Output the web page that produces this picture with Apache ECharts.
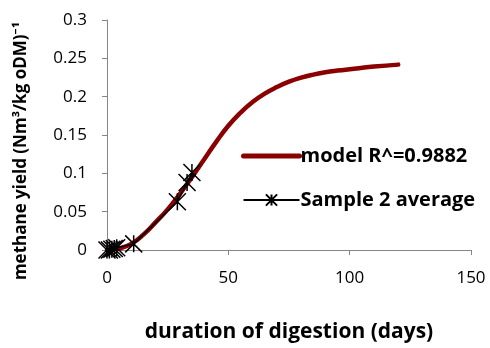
<!DOCTYPE html>
<html><head><meta charset="utf-8">
<script src="https://cdn.jsdelivr.net/npm/echarts@6/dist/echarts.min.js"></script>
<style>html,body{margin:0;padding:0;background:#fff}#c{width:490px;height:348px}</style>
</head><body><div id="c"></div>
<script>
const modelDays = [0, 5, 10, 15, 20, 25, 30, 35, 40, 45, 50, 55, 60, 65, 70, 75, 80, 85, 90, 95, 100, 110, 120];
const modelYield = [0, 0.002, 0.008, 0.02, 0.036, 0.053, 0.073, 0.095, 0.118, 0.141, 0.162, 0.179, 0.193, 0.204, 0.2125, 0.2195, 0.2248, 0.2288, 0.2318, 0.234, 0.2358, 0.2392, 0.2418];
const sampleDays = [0, 1, 2, 3, 4, 11, 29, 33, 35];
const sampleYield = [0, 0, 0.001, 0.002, 0.003, 0.008, 0.063, 0.088, 0.101];
const seriesNames = ['model R^=0.9882', 'Sample 2 average'];

const font = '"Open Sans", "Noto Sans", sans-serif';
const star = 'path://M0,0L10,10M10,0L0,10M5,0L5,10';
const chart = echarts.init(document.getElementById('c'));
chart.setOption({
  animation: false,
  grid: {left: 107, right: 19, top: 20, bottom: 94},
  xAxis: {
    type: 'value', min: 0, max: 150, interval: 50,
    axisLine: {lineStyle: {color: '#868686', width: 1}},
    axisTick: {show: true, length: 5, lineStyle: {color: '#868686'}},
    splitLine: {show: false},
    axisLabel: {color: '#000', fontSize: 17, fontFamily: font, margin: 20},
    name: 'duration of digestion (days)', nameLocation: 'middle', nameGap: 72,
    nameTextStyle: {color: '#000', fontSize: 21, fontWeight: 'bold', fontFamily: font}
  },
  yAxis: {
    type: 'value', min: 0, max: 0.3, interval: 0.05,
    axisLine: {show: true, lineStyle: {color: '#868686', width: 1}},
    axisTick: {show: true, length: 5, lineStyle: {color: '#868686'}},
    splitLine: {show: false},
    axisLabel: {color: '#000', fontSize: 17, fontFamily: font, margin: 20,
      formatter: v => String(Math.round(v * 100) / 100)}
  },
  graphic: [{
    type: 'text', x: 21, y: 151, rotation: Math.PI / 2,
    style: {text: 'methane yield (Nm³/kg oDM)⁻¹', fill: '#000', font: 'bold 17px ' + font,
      textAlign: 'center', textVerticalAlign: 'middle'}
  }],
  legend: {
    orient: 'vertical', left: 236, top: 141, itemWidth: 56, itemHeight: 14, itemGap: 24,
    textStyle: {color: '#000', fontSize: 20, fontWeight: 'bold', fontFamily: font, padding: [0, 0, 0, -4]},
    data: [
      {name: seriesNames[0], itemStyle: {opacity: 0}, lineStyle: {width: 5, cap: 'round', color: '#8B0000'}},
      {name: seriesNames[1]}
    ]
  },
  series: [
    {
      name: seriesNames[0], type: 'line', smooth: 0.5, symbol: 'none',
      data: modelDays.map((d, i) => [d, modelYield[i]]),
      lineStyle: {color: '#8B0000', width: 4.5, cap: 'round'},
      itemStyle: {color: '#8B0000'}, z: 2
    },
    {
      name: seriesNames[1], type: 'line', symbol: star, symbolSize: 17, showSymbol: true,
      data: sampleDays.map((d, i) => [d, sampleYield[i]]),
      lineStyle: {color: '#000', width: 1.5},
      itemStyle: {color: 'rgba(0,0,0,0)', borderColor: '#000', borderWidth: 1.5}, z: 3
    }
  ]
});
</script></body></html>
